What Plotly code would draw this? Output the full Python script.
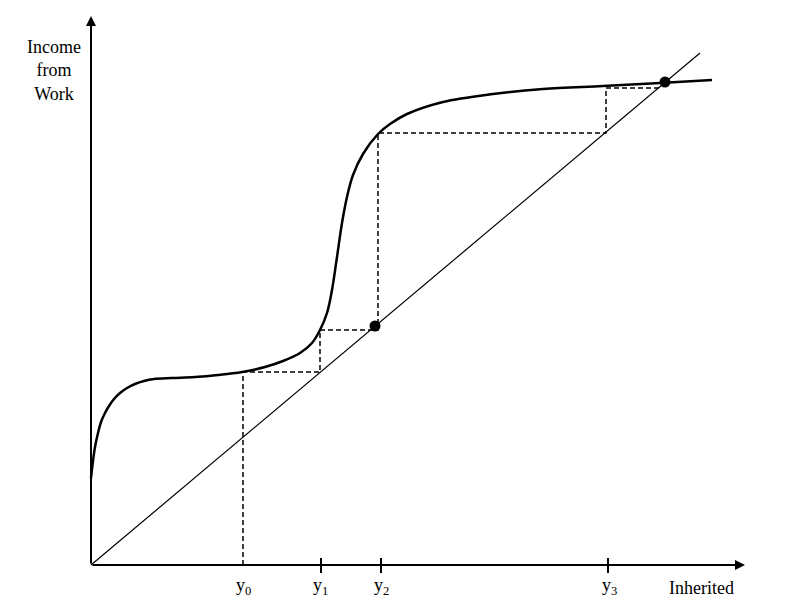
import plotly.graph_objects as go

# Data (units: arbitrary, origin at axis intersection)
curve_x = [0, 2, 4, 7, 10, 14, 18, 23, 29, 36, 44, 53, 63, 81, 104, 127, 151, 174, 192, 209, 221, 229, 236, 241,
           246, 251, 256, 262, 272, 287, 299, 316, 352, 402, 452, 512, 569, 621]
curve_y = [87, 104, 118, 132, 143, 152, 159, 166, 172, 177, 181, 184, 186, 187, 188, 190, 193, 198, 204, 212, 222, 235, 252, 275,
           308, 342, 368, 390, 411, 431, 441, 451, 463, 471, 476, 479, 482, 485]

diag_x = [0, 609]
diag_y = [0, 512]

stair_x = [152, 152, 229, 229, 287, 287, 515, 515, 570]
stair_y = [0, 193, 193, 235, 235, 432, 432, 477, 477]

dot_x = [284, 574]
dot_y = [239, 483]

tick_pos = [230, 290, 517]
label_pos = [152, 229, 290, 518]
label_text = ["y<sub>0</sub>", "y<sub>1</sub>", "y<sub>2</sub>", "y<sub>3</sub>"]

x_axis_end = 654
y_axis_end = 549

FONT = "Liberation Serif, Times New Roman, serif"

fig = go.Figure()

fig.add_trace(go.Scatter(x=diag_x, y=diag_y, mode="lines",
                         line=dict(color="black", width=1.2), hoverinfo="skip"))
fig.add_trace(go.Scatter(x=stair_x, y=stair_y, mode="lines",
                         line=dict(color="black", width=1.5, dash="5px,3px"), hoverinfo="skip"))
fig.add_trace(go.Scatter(x=curve_x, y=curve_y, mode="lines",
                         line=dict(color="black", width=2.5, shape="spline", smoothing=1.0),
                         hoverinfo="skip"))
fig.add_trace(go.Scatter(x=dot_x, y=dot_y, mode="markers",
                         marker=dict(color="black", size=11), hoverinfo="skip"))

# tick marks
for t in tick_pos:
    fig.add_shape(type="line", x0=t, x1=t, y0=-8, y1=7, xref="x", yref="y",
                  line=dict(color="black", width=2))

# axes with arrows
fig.add_annotation(x=x_axis_end, y=0, ax=0, ay=0, xref="x", yref="y", axref="x", ayref="y",
                   showarrow=True, arrowhead=2, arrowsize=1, arrowwidth=2, arrowcolor="black",
                   text="", standoff=0)
fig.add_annotation(x=0, y=y_axis_end, ax=0, ay=0, xref="x", yref="y", axref="x", ayref="y",
                   showarrow=True, arrowhead=2, arrowsize=1, arrowwidth=2, arrowcolor="black",
                   text="", standoff=0)

for p, t in zip(label_pos, label_text):
    fig.add_annotation(x=p, y=-8, text=t, showarrow=False, yanchor="top",
                       font=dict(family=FONT, size=18, color="black"))

fig.add_annotation(x=610, y=-11, text="Inherited", showarrow=False, yanchor="top",
                   font=dict(family=FONT, size=18, color="black"))
fig.add_annotation(x=-37, y=495, text="Income<br>from<br>Work", showarrow=False,
                   font=dict(family=FONT, size=18, color="black"), align="center")

# page body has an 8px margin: figure spans page pixels 8..805 x 8..599
fig.update_layout(
    width=797, height=591,
    margin=dict(l=0, r=0, t=0, b=0, pad=0),
    paper_bgcolor="white", plot_bgcolor="white",
    showlegend=False,
    xaxis=dict(range=[-83, 714], visible=False, fixedrange=True),
    yaxis=dict(range=[-34, 557], visible=False, fixedrange=True),
)

fig.write_html("out.html")
